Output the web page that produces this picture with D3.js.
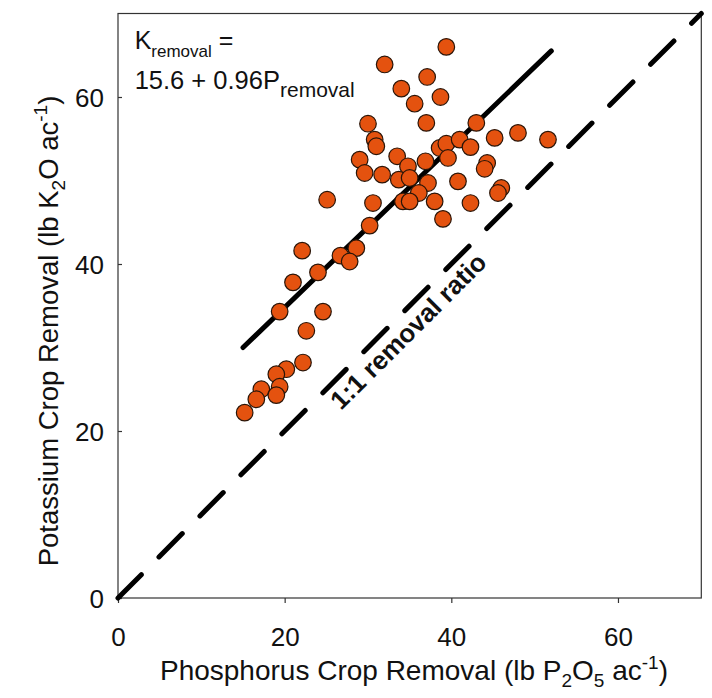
<!DOCTYPE html>
<html>
<head>
<meta charset="utf-8">
<style>
  body { margin: 0; background: #fff; }
  svg { display: block; font-family: Arial, "Liberation Sans", sans-serif; }
</style>
</head>
<body>
<div id="chart"></div>
<script src="https://d3js.org/d3.v7.min.js"></script>
<script>
// P2O5 removal (x) and K2O removal (y), lb/ac
const pRemoval = [
  25.1, 30.6, 30.2, 22.1, 28.6, 26.7, 27.8, 24.0, 21.0, 19.4,
  24.6, 22.6, 22.2, 20.2, 19.0, 19.4, 17.2, 19.0, 16.6, 15.2,
  39.4, 32.0, 37.1, 34.0, 38.7, 35.6, 37.0, 30.0, 30.8, 31.0,
  38.6, 39.4, 41.0, 29.0, 33.5, 39.6, 36.9, 34.8, 29.6, 31.7,
  33.7, 35.0, 37.2, 40.8, 36.1, 34.2, 35.0, 38.0, 39.0,
  43.0, 45.2, 48.0, 51.6, 42.3, 44.3, 44.0, 46.0, 45.6, 42.3
];
const kRemoval = [
  47.7, 47.3, 44.6, 41.6, 41.9, 41.0, 40.3, 39.0, 37.8, 34.3,
  34.3, 32.0, 28.2, 27.4, 26.8, 25.3, 25.0, 24.3, 23.8, 22.2,
  66.0, 63.9, 62.4, 61.0, 60.0, 59.2, 56.9, 56.8, 54.9, 54.1,
  53.9, 54.4, 54.9, 52.5, 52.9, 52.7, 52.3, 51.7, 50.9, 50.7,
  50.1, 50.3, 49.7, 49.9, 48.5, 47.5, 47.5, 47.5, 45.4,
  56.9, 55.1, 55.7, 54.9, 54.0, 52.1, 51.4, 49.1, 48.5, 47.3
];

// regression K = 15.6 + 0.96 P, drawn over the P range of the data
const fitIntercept = 15.6;
const fitSlope = 0.96;
const fitRange = [15, 52];

// 1:1 line
const oneToOne = [0, 70];

const xTicks = [0, 20, 40, 60];
const yTicks = [0, 20, 40, 60];

const width = 712, height = 698;

const svg = d3.select("#chart").append("svg")
  .attr("width", width)
  .attr("height", height);

const x = d3.scaleLinear().domain([0, 70]).range([118, 701.3]);
const y = d3.scaleLinear().domain([0, 70]).range([598, 13.5]);

// frame
svg.append("rect")
  .attr("x", x(0))
  .attr("y", y(70))
  .attr("width", x(70) - x(0))
  .attr("height", y(0) - y(70))
  .attr("fill", "none")
  .attr("stroke", "#333")
  .attr("stroke-width", 1.2);

// axes
const xAxis = svg.append("g")
  .attr("transform", `translate(0,${y(0)})`)
  .call(d3.axisBottom(x).tickValues(xTicks).tickSizeInner(5).tickSizeOuter(0).tickPadding(25));
const yAxis = svg.append("g")
  .attr("transform", `translate(${x(0)},0)`)
  .call(d3.axisLeft(y).tickValues(yTicks).tickSizeInner(-4).tickSizeOuter(0).tickPadding(14));

[xAxis, yAxis].forEach(g => {
  g.select(".domain").remove();
  g.selectAll(".tick line").attr("stroke", "#333").attr("stroke-width", 1.2);
  g.selectAll(".tick text")
    .attr("fill", "#111")
    .style("font-family", "Arial, 'Liberation Sans', sans-serif")
    .style("font-size", "26px");
});
yAxis.selectAll(".tick text").attr("dy", "0.36em");

// 1:1 dashed line
svg.append("line")
  .attr("x1", x(oneToOne[0])).attr("y1", y(oneToOne[0]))
  .attr("x2", x(oneToOne[1])).attr("y2", y(oneToOne[1]))
  .attr("stroke", "#000")
  .attr("stroke-width", 5)
  .attr("stroke-linecap", "round")
  .attr("stroke-dasharray", "33,25");

// regression line
svg.append("line")
  .attr("x1", x(fitRange[0])).attr("y1", y(fitIntercept + fitSlope * fitRange[0]))
  .attr("x2", x(fitRange[1])).attr("y2", y(fitIntercept + fitSlope * fitRange[1]))
  .attr("stroke", "#000")
  .attr("stroke-width", 5)
  .attr("stroke-linecap", "round");

// points
const points = pRemoval.map((p, i) => ({ p: p, k: kRemoval[i] }));
svg.append("g")
  .selectAll("circle")
  .data(points)
  .join("circle")
  .attr("cx", d => x(d.p))
  .attr("cy", d => y(d.k))
  .attr("r", 8.3)
  .attr("fill", "#e4520f")
  .attr("stroke", "#2a1508")
  .attr("stroke-width", 1.2);

// 1:1 label
const lx = x(35.6), ly = y(31.2);
svg.append("text")
  .attr("transform", `translate(${lx},${ly}) rotate(-45)`)
  .attr("text-anchor", "middle")
  .style("font-size", "26px")
  .style("font-weight", "bold")
  .attr("fill", "#111")
  .text("1:1 removal ratio");

// equation
const eq1 = svg.append("text")
  .attr("x", x(2)).attr("y", y(65.8))
  .attr("fill", "#111")
  .style("font-size", "25px");
eq1.append("tspan").text("K");
eq1.append("tspan").attr("dy", 8).style("font-size", "17px").text("removal");
eq1.append("tspan").attr("dy", -8).text(" =");

const eq2 = svg.append("text")
  .attr("x", x(2)).attr("y", y(61.0))
  .attr("fill", "#111")
  .style("font-size", "25.5px");
eq2.append("tspan").text("15.6 + 0.96P");
eq2.append("tspan").attr("dy", 8).style("font-size", "21px").text("removal");

// axis titles
const xt = svg.append("text")
  .attr("x", 414).attr("y", 680)
  .attr("text-anchor", "middle")
  .attr("fill", "#111")
  .style("font-size", "28px");
xt.append("tspan").text("Phosphorus Crop Removal (lb P");
xt.append("tspan").attr("dy", 7).style("font-size", "19px").text("2");
xt.append("tspan").attr("dy", -7).text("O");
xt.append("tspan").attr("dy", 7).style("font-size", "19px").text("5");
xt.append("tspan").attr("dy", -7).text(" ac");
xt.append("tspan").attr("dy", -11).style("font-size", "19px").text("-1");
xt.append("tspan").attr("dy", 11).text(")");

const yt = svg.append("text")
  .attr("transform", "translate(58,331) rotate(-90)")
  .attr("text-anchor", "middle")
  .attr("fill", "#111")
  .style("font-size", "27.5px");
yt.append("tspan").text("Potassium Crop Removal (lb K");
yt.append("tspan").attr("dy", 7).style("font-size", "19px").text("2");
yt.append("tspan").attr("dy", -7).text("O ac");
yt.append("tspan").attr("dy", -11).style("font-size", "19px").text("-1");
yt.append("tspan").attr("dy", 11).text(")");
</script>
</body>
</html>
